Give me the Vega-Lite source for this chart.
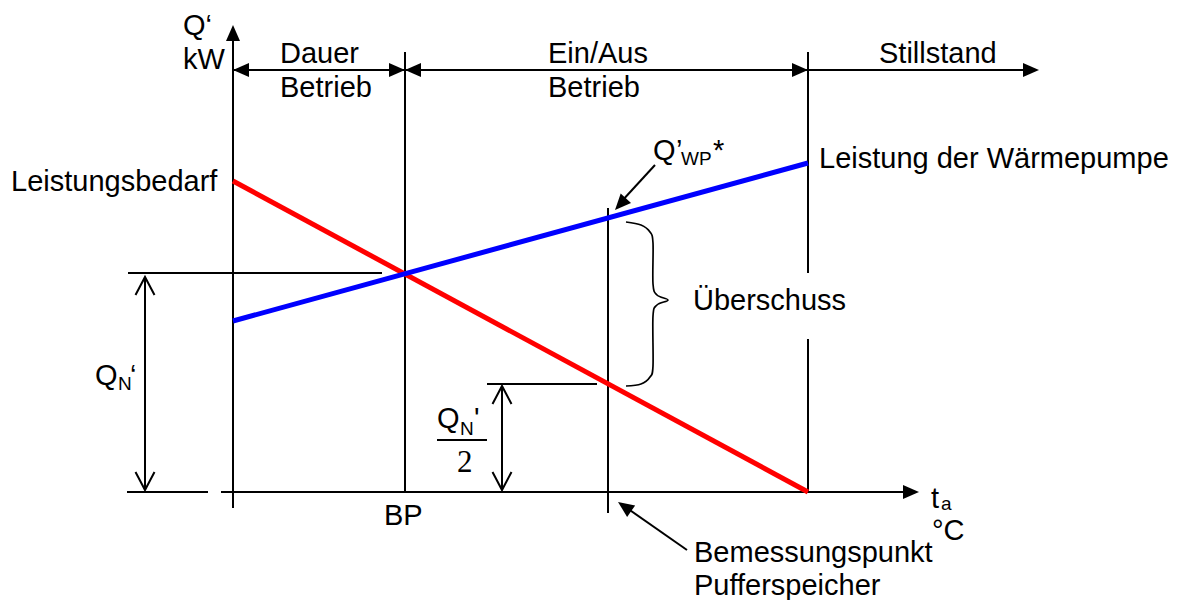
{
  "$schema": "https://vega.github.io/schema/vega-lite/v6.json",
  "width": 1182,
  "height": 600,
  "padding": 0,
  "autosize": {"type": "none"},
  "background": "white",
  "config": {"view": {"stroke": null}},
  "datasets": {
    "lines": [
      {"t": 0, "q": -16, "t2": 0, "q2": 455},
      {"t": -12, "q": 0, "t2": 672, "q2": 0},
      {"t": -106, "q": 0, "t2": -25, "q2": 0},
      {"t": -105, "q": 219, "t2": 149, "q2": 219},
      {"t": 172, "q": 0, "t2": 172, "q2": 440},
      {"t": 575, "q": 219, "t2": 575, "q2": 440},
      {"t": 575, "q": 0, "t2": 575, "q2": 153},
      {"t": 375, "q": -21, "t2": 375, "q2": 284},
      {"t": 254, "q": 108, "t2": 364, "q2": 108},
      {"t": 0, "q": 422, "t2": 794, "q2": 422},
      {"t": -88, "q": 2, "t2": -88, "q2": 215},
      {"t": 269, "q": 2, "t2": 269, "q2": 106},
      {"t": 204, "q": 52, "t2": 254, "q2": 52},
      {"t": 422, "q": 327, "t2": 388, "q2": 290},
      {"t": 454, "q": -58, "t2": 391, "q2": -14}
    ],
    "curves": [
      {"series": "Leistungsbedarf", "t": 0, "q": 311},
      {"series": "Leistungsbedarf", "t": 575, "q": 0},
      {"series": "Leistung der Wärmepumpe", "t": 0, "q": 171},
      {"series": "Leistung der Wärmepumpe", "t": 575, "q": 329}
    ],
    "brace": [
      {"i": 0, "t": 393, "q": 270},
      {"i": 1, "t": 408, "q": 267},
      {"i": 2, "t": 417, "q": 260},
      {"i": 3, "t": 420, "q": 249},
      {"i": 4, "t": 420, "q": 208},
      {"i": 5, "t": 424, "q": 197},
      {"i": 6, "t": 435, "q": 192},
      {"i": 7, "t": 424, "q": 187},
      {"i": 8, "t": 420, "q": 176},
      {"i": 9, "t": 420, "q": 126},
      {"i": 10, "t": 417, "q": 115},
      {"i": 11, "t": 408, "q": 108},
      {"i": 12, "t": 393, "q": 106}
    ],
    "heads": [
      {"t": 0, "q": 467, "dir": "up"},
      {"t": 686, "q": 0, "dir": "right"},
      {"t": 0, "q": 422, "dir": "left"},
      {"t": 172, "q": 422, "dir": "right"},
      {"t": 172, "q": 422, "dir": "left"},
      {"t": 575, "q": 422, "dir": "right"},
      {"t": 806, "q": 422, "dir": "right"},
      {"t": 382, "q": 282, "dir": "sw"},
      {"t": 385, "q": -10, "dir": "nw"}
    ],
    "vees": [
      {"t": -88, "q": 215, "dir": "up"},
      {"t": -88, "q": 2, "dir": "down"},
      {"t": 269, "q": 106, "dir": "up"},
      {"t": 269, "q": 2, "dir": "down"}
    ],
    "labels": [
      {"t": -50, "q": 457, "text": "Q‘"},
      {"t": -50, "q": 423, "text": "kW"},
      {"t": 47, "q": 429, "text": "Dauer"},
      {"t": 47, "q": 395, "text": "Betrieb"},
      {"t": 315, "q": 429, "text": "Ein/Aus"},
      {"t": 315, "q": 395, "text": "Betrieb"},
      {"t": 646, "q": 429, "text": "Stillstand"},
      {"t": -222, "q": 301, "text": "Leistungsbedarf"},
      {"t": 586, "q": 324, "text": "Leistung der Wärmepumpe"},
      {"t": 460, "q": 182, "text": "Überschuss"},
      {"t": 151, "q": -33, "text": "BP"},
      {"t": 698, "q": -16, "text": "t"},
      {"t": 699, "q": -48, "text": "°C"},
      {"t": 461, "q": -70, "text": "Bemessungspunkt"},
      {"t": 461, "q": -103, "text": "Pufferspeicher"},
      {"t": -138, "q": 107, "text": "Q"},
      {"t": -103, "q": 107, "text": "‘"},
      {"t": 204, "q": 64, "text": "Q"},
      {"t": 241, "q": 64, "text": "'"},
      {"t": 420, "q": 332, "text": "Q"},
      {"t": 443, "q": 332, "text": "’"},
      {"t": 480, "q": 332, "text": "*"}
    ],
    "subs": [
      {"t": -115, "q": 102, "text": "N"},
      {"t": 227, "q": 57, "text": "N"},
      {"t": 448, "q": 327, "text": "WP"},
      {"t": 708, "q": -18, "text": "a"}
    ],
    "serif": [
      {"t": 224, "q": 20, "text": "2"}
    ]
  },
  "layer": [
    {
      "data": {"name": "lines"},
      "mark": {"type": "rule", "color": "black", "strokeWidth": 2},
      "encoding": {
        "x": {"field": "t", "type": "quantitative", "scale": {"domain": [-233, 949], "nice": false, "zero": false}, "axis": null},
        "y": {"field": "q", "type": "quantitative", "scale": {"domain": [-108, 492], "nice": false, "zero": false}, "axis": null},
        "x2": {"field": "t2"},
        "y2": {"field": "q2"}
      }
    },
    {
      "data": {"name": "curves"},
      "mark": {"type": "line", "strokeWidth": 5},
      "encoding": {
        "x": {"field": "t", "type": "quantitative", "scale": {"domain": [-233, 949], "nice": false, "zero": false}, "axis": null},
        "y": {"field": "q", "type": "quantitative", "scale": {"domain": [-108, 492], "nice": false, "zero": false}, "axis": null},
        "color": {"field": "series", "type": "nominal", "scale": {"domain": ["Leistungsbedarf", "Leistung der Wärmepumpe"], "range": ["#ff0000", "#0000ff"]}, "legend": null}
      }
    },
    {
      "data": {"name": "brace"},
      "mark": {"type": "line", "color": "black", "strokeWidth": 1.7, "interpolate": "cardinal"},
      "encoding": {
        "x": {"field": "t", "type": "quantitative", "scale": {"domain": [-233, 949], "nice": false, "zero": false}, "axis": null},
        "y": {"field": "q", "type": "quantitative", "scale": {"domain": [-108, 492], "nice": false, "zero": false}, "axis": null},
        "order": {"field": "i", "type": "quantitative"}
      }
    },
    {
      "data": {"name": "heads"},
      "mark": {"type": "point", "filled": true, "color": "black", "opacity": 1, "size": 100, "strokeWidth": 0},
      "encoding": {
        "x": {"field": "t", "type": "quantitative", "scale": {"domain": [-233, 949], "nice": false, "zero": false}, "axis": null},
        "y": {"field": "q", "type": "quantitative", "scale": {"domain": [-108, 492], "nice": false, "zero": false}, "axis": null},
        "shape": {"field": "dir", "type": "nominal", "legend": null, "scale": {
          "domain": ["right", "left", "up", "sw", "nw"],
          "range": ["M0,0L-3.2,-1.4L-3.2,1.4Z", "M0,0L3.2,-1.4L3.2,1.4Z", "M0,0L-1.4,3.2L1.4,3.2Z", "M0,0L3.2,-1.41L1.14,-3.3Z", "M0,0L1.83,2.98L3.43,0.68Z"]}}
      }
    },
    {
      "data": {"name": "vees"},
      "mark": {"type": "point", "filled": false, "color": "black", "opacity": 1, "size": 100, "strokeWidth": 2},
      "encoding": {
        "x": {"field": "t", "type": "quantitative", "scale": {"domain": [-233, 949], "nice": false, "zero": false}, "axis": null},
        "y": {"field": "q", "type": "quantitative", "scale": {"domain": [-108, 492], "nice": false, "zero": false}, "axis": null},
        "shape": {"field": "dir", "type": "nominal", "legend": null, "scale": {
          "domain": ["up", "down"],
          "range": ["M-1.9,3.6L0,0L1.9,3.6", "M-1.9,-3.6L0,0L1.9,-3.6"]}}
      }
    },
    {
      "data": {"name": "labels"},
      "mark": {"type": "text", "font": "Liberation Sans", "fontSize": 29, "align": "left", "baseline": "alphabetic", "color": "black"},
      "encoding": {
        "x": {"field": "t", "type": "quantitative", "scale": {"domain": [-233, 949], "nice": false, "zero": false}, "axis": null},
        "y": {"field": "q", "type": "quantitative", "scale": {"domain": [-108, 492], "nice": false, "zero": false}, "axis": null},
        "text": {"field": "text"}
      }
    },
    {
      "data": {"name": "subs"},
      "mark": {"type": "text", "font": "Liberation Sans", "fontSize": 19, "align": "left", "baseline": "alphabetic", "color": "black"},
      "encoding": {
        "x": {"field": "t", "type": "quantitative", "scale": {"domain": [-233, 949], "nice": false, "zero": false}, "axis": null},
        "y": {"field": "q", "type": "quantitative", "scale": {"domain": [-108, 492], "nice": false, "zero": false}, "axis": null},
        "text": {"field": "text"}
      }
    },
    {
      "data": {"name": "serif"},
      "mark": {"type": "text", "font": "Liberation Serif", "fontSize": 31, "align": "left", "baseline": "alphabetic", "color": "black"},
      "encoding": {
        "x": {"field": "t", "type": "quantitative", "scale": {"domain": [-233, 949], "nice": false, "zero": false}, "axis": null},
        "y": {"field": "q", "type": "quantitative", "scale": {"domain": [-108, 492], "nice": false, "zero": false}, "axis": null},
        "text": {"field": "text"}
      }
    }
  ],
  "resolve": {"scale": {"shape": "independent", "color": "independent"}}
}
